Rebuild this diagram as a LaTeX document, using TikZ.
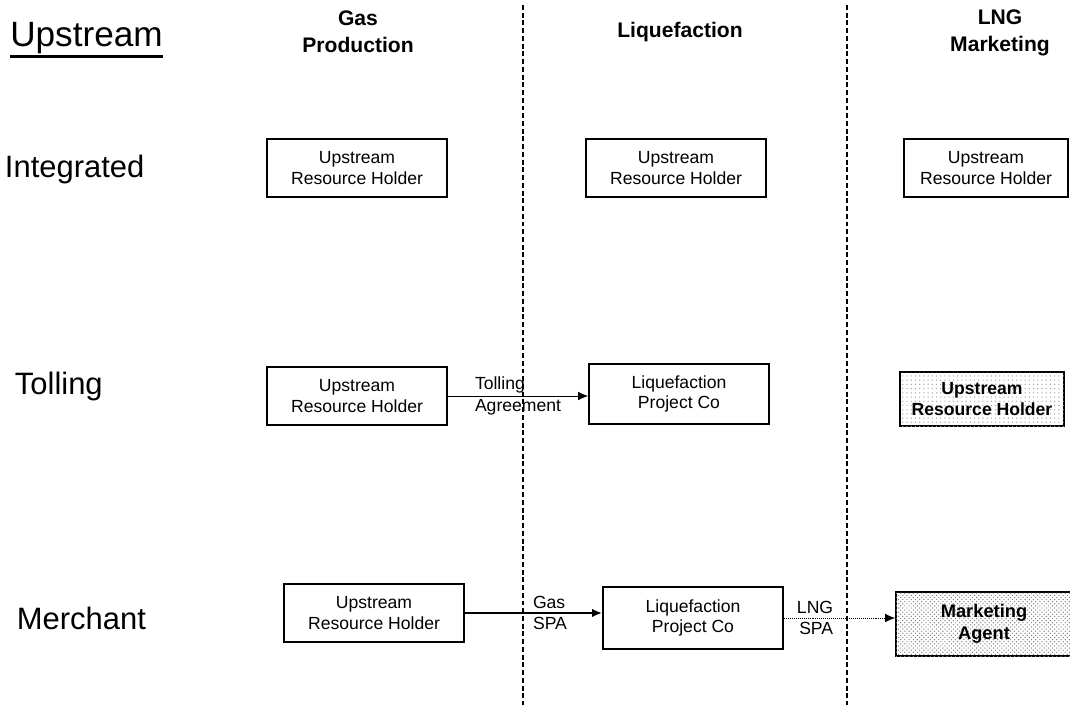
\documentclass[tikz,border=0pt]{standalone}
\usepackage{fontspec}
\setmainfont{Liberation Sans}
\usetikzlibrary{positioning,patterns,shadows,arrows.meta}

\begin{document}
\begin{tikzpicture}[
		x=0.025cm,y=-0.025cm,
		party/.style={
			rectangle,
			draw,
			line width=1.3pt,
			fill=white,
			minimum width=4.5cm,
			minimum height=1.45cm,
			align=center,
			inner sep=1pt,
			font=\fontsize{12.5}{14.5}\selectfont,
			drop shadow={opacity=1,fill=black,shadow xshift=0.8pt,shadow yshift=-0.8pt},
		},
		phase/.style={
			align=center,
			font=\fontsize{15}{19}\selectfont\bfseries,
		},
		model/.style={
			anchor=west,
			font=\fontsize{22}{26}\selectfont,
		},
		deal/.style={
			font=\fontsize{12.5}{15.5}\selectfont,
			inner sep=0pt,
		},
		divider/.style={
			line width=2pt,
			dash pattern=on 3.5pt off 2pt,
		},
		>={Latex[length=7pt,width=6pt]}
		]
		\useasboundingbox (0,0) rectangle (1070,705);
		% Draw the column dividers
		\foreach \i/\x in {1/523,2/847} {
			\coordinate (div\i top) at (\x,5);
			\coordinate (div\i bot) at (\x,705);
			\draw[divider] (div\i top) -- (div\i bot);
		}
		% Draw the column headings
		\node [model,font=\fontsize{25}{29}\selectfont,inner sep=0pt] (upstream) at (10,38) {Upstream};
		\draw[line width=2pt] ([yshift=-2pt]upstream.south west) -- ([yshift=-2pt]upstream.south east);
		\node [phase] (hdrgas) at (358,32) {Gas\\Production};
		\node [phase] (hdrliq) at (680,32) {Liquefaction};
		\node [phase] (hdrlng) at (1000,33) {LNG\\Marketing};
		% Draw the row labels
		\node [model] (rowint) at (0,169) {Integrated};
		\node [model] (rowtol) at (10,386) {Tolling};
		\node [model] (rowmer) at (12,618) {Merchant};
		% Draw the integrated row
		\node [party] (intgas) at (357,168) {Upstream\\Resource Holder};
		\node [party] (intliq) at (676,168) {Upstream\\Resource Holder};
		\node [party,minimum width=4.1cm] (intlng) at (986,168) {Upstream\\Resource Holder};
		% Draw the tolling row
		\node [party] (tolgas) at (357,396) {Upstream\\Resource Holder};
		\node [party,minimum height=1.5cm] (tolliq) at (679,394) {Liquefaction\\Project Co};
		\node [party,postaction={pattern=dots,pattern color=gray!70},font=\fontsize{12.5}{14.5}\selectfont\bfseries,minimum width=4.1cm,minimum height=1.35cm] (tollng) at (982,399) {Upstream\\Resource Holder};
		\draw[->] (tolgas.east) -- (tolgas.east -| tolliq.west)
			node[deal,midway,align=left] {Tolling\\Agreement};
		% Draw the merchant row
		\node [party] (mergas) at (374,613) {Upstream\\Resource Holder};
		\node [party,minimum height=1.55cm] (merliq) at (693,618) {Liquefaction\\Project Co};
		\node [party,postaction={pattern=crosshatch dots,pattern color=gray},font=\fontsize{13}{16}\selectfont\bfseries,minimum width=4.4cm,minimum height=1.6cm] (merlng) at (984,624) {Marketing\\Agent};
		\draw[->,line width=1.8pt] (mergas.east) -- (mergas.east -| merliq.west)
			node[deal,pos=0.62,align=left] {Gas\\SPA};
		\draw[->,densely dotted] (merliq.east) -- (merliq.east -| merlng.west)
			node[deal,pos=0.28,align=right] {LNG\\SPA};
	\end{tikzpicture}
\end{document}
